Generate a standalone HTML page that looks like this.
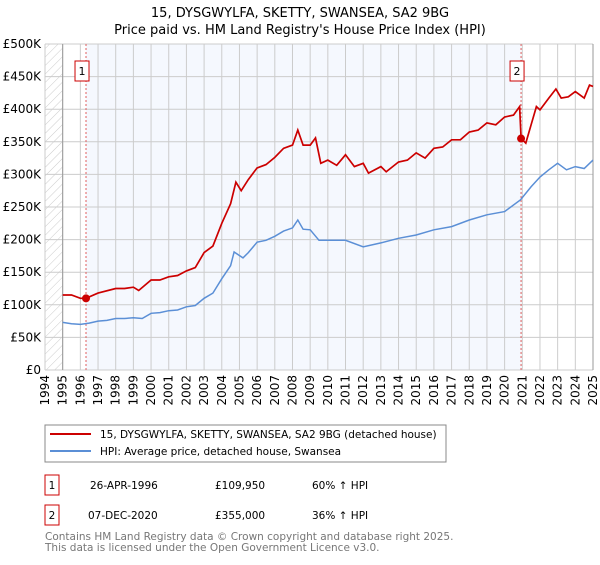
<!DOCTYPE html>
<html><head><meta charset="utf-8"><style>
body{margin:0;background:#fff;font-family:"Liberation Sans","DejaVu Sans",sans-serif;}
svg text{font-family:"DejaVu Sans","Liberation Sans",sans-serif;}
</style></head><body>
<svg id="c" width="600" height="560" viewBox="0 0 600 560" xmlns="http://www.w3.org/2000/svg">
<defs><pattern id="hatch" width="6" height="6" patternUnits="userSpaceOnUse" patternTransform="rotate(45)"><line x1="0" y1="0" x2="0" y2="6" stroke="#ccc" stroke-width="1"/></pattern></defs>
<text x="300" y="17" text-anchor="middle" font-size="13">15, DYSGWYLFA, SKETTY, SWANSEA, SA2 9BG</text>
<text x="300" y="34" text-anchor="middle" font-size="13">Price paid vs. HM Land Registry's House Price Index (HPI)</text>
<g id="plot"></g>
<rect x="45" y="425" width="401" height="37" fill="#fff" stroke="#888"/>
<line x1="50" y1="434" x2="91" y2="434" stroke="#cc0000" stroke-width="2"/>
<text x="100" y="438" font-size="10.5">15, DYSGWYLFA, SKETTY, SWANSEA, SA2 9BG (detached house)</text>
<line x1="50" y1="451" x2="91" y2="451" stroke="#5b8fd6" stroke-width="2"/>
<text x="100" y="455" font-size="10.5">HPI: Average price, detached house, Swansea</text>
<rect x="45" y="475" width="14" height="20" fill="#fff" stroke="#cc0000"/>
<text x="52" y="489" font-size="10.5" text-anchor="middle">1</text>
<text x="90" y="489" font-size="10.5">26-APR-1996</text>
<text x="215" y="489" font-size="10.5">£109,950</text>
<text x="312" y="489" font-size="10.5">60% ↑ HPI</text>
<rect x="45" y="505" width="14" height="20" fill="#fff" stroke="#cc0000"/>
<text x="52" y="519" font-size="10.5" text-anchor="middle">2</text>
<text x="88" y="519" font-size="10.5">07-DEC-2020</text>
<text x="215" y="519" font-size="10.5">£355,000</text>
<text x="312" y="519" font-size="10.5">36% ↑ HPI</text>
<text x="45" y="540" font-size="10.5" fill="#777">Contains HM Land Registry data © Crown copyright and database right 2025.</text>
<text x="45" y="551" font-size="10.5" fill="#777">This data is licensed under the Open Government Licence v3.0.</text>
</svg>
<script>
const yearTicks=[1994,1995,1996,1997,1998,1999,2000,2001,2002,2003,2004,2005,2006,2007,2008,2009,2010,2011,2012,2013,2014,2015,2016,2017,2018,2019,2020,2021,2022,2023,2024,2025];
const valueTicks=[0,50,100,150,200,250,300,350,400,450,500];
const valueLabels=["£0","£50K","£100K","£150K","£200K","£250K","£300K","£350K","£400K","£450K","£500K"];
const hpiYears=[1995,1995.5,1996,1996.5,1997,1997.5,1998,1998.5,1999,1999.5,2000,2000.5,2001,2001.5,2002,2002.5,2003,2003.5,2004,2004.5,2004.7,2005.2,2005.5,2006,2006.5,2007,2007.5,2008,2008.3,2008.6,2009,2009.5,2010,2011,2012,2013,2014,2015,2016,2017,2018,2019,2020,2020.9,2021.5,2022,2022.5,2023,2023.5,2024,2024.5,2025];
const hpiValues=[73,71,70,72,75,76,79,79,80,79,87,88,91,92,97,99,110,118,140,160,181,172,180,196,199,205,213,218,230,216,215,199,199,199,189,195,202,207,215,220,230,238,243,261,281,296,307,317,307,312,309,322];
const propYears=[1995,1995.5,1996,1996.32,1997,1998,1998.5,1999,1999.3,2000,2000.5,2001,2001.5,2002,2002.5,2003,2003.5,2004,2004.5,2004.8,2005.1,2005.5,2006,2006.5,2007,2007.5,2008,2008.3,2008.6,2009,2009.3,2009.6,2010,2010.5,2011,2011.5,2012,2012.3,2013,2013.3,2014,2014.5,2015,2015.5,2016,2016.5,2017,2017.5,2018,2018.5,2019,2019.5,2020,2020.5,2020.85,2020.93,2021.2,2021.5,2021.8,2022,2022.5,2022.9,2023.2,2023.6,2024,2024.5,2024.8,2025];
const propValues=[115,115,110,110,118,125,125,127,122,138,138,143,145,152,157,180,190,225,255,288,275,292,310,315,326,340,345,368,345,345,356,317,322,314,330,312,317,302,312,304,319,322,333,325,340,342,353,353,365,368,379,376,388,391,404,355,348,376,404,399,417,431,417,419,427,417,437,435];
const saleYears=[1996.32,2020.93];
const saleValues=[109.95,355];
const saleLabels=["1","2"];

const NS="http://www.w3.org/2000/svg";
const X0=45,X1=593,Y0=370,Y1=44;
const xs=y=>X0+(y-1994)/(2025-1994)*(X1-X0);
const ys=v=>Y0-v/500*(Y0-Y1);
const g=document.getElementById('plot');
function mk(t,a){const e=document.createElementNS(NS,t);for(const k in a)e.setAttribute(k,a[k]);g.appendChild(e);return e;}
let e;
e=mk('rect',{x:X0,y:Y1,width:X1-X0,height:Y0-Y1,fill:'#fff'});
e=mk('rect',{x:xs(saleYears[0]),y:Y1,width:xs(saleYears[1])-xs(saleYears[0]),height:Y0-Y1,fill:'#f5f8fe'});


e=mk('rect',{x:X0,y:Y1,width:xs(1995)-X0,height:Y0-Y1,fill:'url(#hatch)'});


valueTicks.forEach((v,i)=>{
  e=mk('line',{x1:X0,x2:X1,y1:ys(v),y2:ys(v),stroke:'#ccc','stroke-width':1});
  
  
  e=mk('text',{x:X0-4,y:ys(v)+4,'text-anchor':'end','font-size':12});
  e.textContent=valueLabels[i];
  
  
});
yearTicks.forEach(y=>{
  e=mk('line',{x1:xs(y),x2:xs(y),y1:Y1,y2:Y0,stroke:'#ccc','stroke-width':1});
  
  
  e=mk('text',{x:0,y:0,'text-anchor':'end','font-size':12,transform:`translate(${xs(y)+4},${Y0+5}) rotate(-90)`});
  e.textContent=y;
  
  
});
e=mk('line',{x1:xs(1995),x2:xs(1995),y1:Y1,y2:Y0,stroke:'#999'});
e=mk('line',{x1:X1,x2:X1,y1:Y1,y2:Y0,stroke:'#999'});
saleYears.forEach((y,i)=>{
  e=mk('line',{x1:xs(y),x2:xs(y),y1:Y1,y2:Y0,stroke:'#e06060','stroke-dasharray':'2,2'});
  
  
  e=mk('rect',{x:xs(y)-11,y:61,width:14,height:20,fill:'#fff',stroke:'#cc0000'});
  
  
  e=mk('text',{x:xs(y)-4,y:75,'text-anchor':'middle','font-size':11});
  e.textContent=saleLabels[i];
});
const path=(xa,va)=>xa.map((y,i)=>(i?'L':'M')+xs(y).toFixed(1)+','+ys(va[i]).toFixed(1)).join('');
e=mk('path',{d:path(hpiYears,hpiValues),fill:'none',stroke:'#5b8fd6','stroke-width':1.5});


e=mk('path',{d:path(propYears,propValues),fill:'none',stroke:'#cc0000','stroke-width':1.7});


saleYears.forEach((y,i)=>{
  e=mk('circle',{cx:xs(y),cy:ys(saleValues[i]),r:4,fill:'#cc0000'});
  
  
});
</script>
</body></html>
